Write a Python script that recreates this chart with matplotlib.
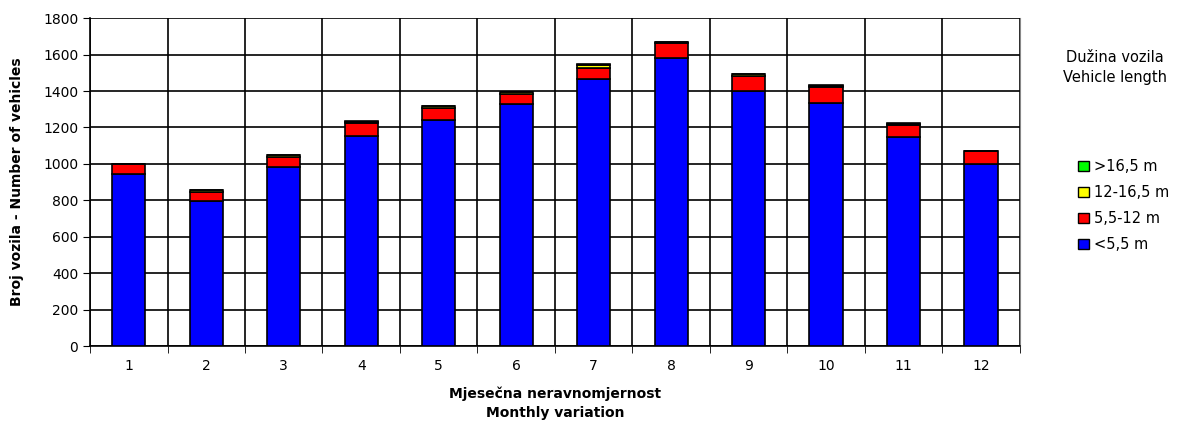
import matplotlib.pyplot as plt
import numpy as np
from matplotlib.patches import Patch

months = ['1', '2', '3', '4', '5', '6', '7', '8', '9', '10', '11', '12']
under_5_5 = [945, 798, 981, 1155, 1241, 1327, 1466, 1582, 1398, 1336, 1147, 997]
from_5_5_to_12 = [54, 50, 58, 68, 67, 58, 62, 80, 84, 86, 66, 72]
from_12_to_16_5 = [1, 7, 8, 8, 8, 8, 16, 6, 9, 8, 7, 1]
over_16_5 = [0, 3, 4, 3, 4, 4, 3, 3, 4, 3, 3, 0]

series_labels = ['<5,5 m', '5,5-12 m', '12-16,5 m', '>16,5 m']
colors = ['#0000FF', '#FF0000', '#FFFF00', '#00FF00']

plt.rcParams['font.family'] = 'DejaVu Sans'

fig = plt.figure(figsize=(11.77, 4.23), dpi=100)
ax = fig.add_axes([0.0765, 0.182, 0.79, 0.775])

x = np.arange(1, len(months) + 1)
bottom = np.zeros(len(months))
for vals, col in zip([under_5_5, from_5_5_to_12, from_12_to_16_5, over_16_5], colors):
    ax.bar(x, vals, width=0.43, bottom=bottom, color=col, edgecolor='black', linewidth=1.2, zorder=3)
    bottom += np.array(vals)

ax.set_xlim(0.5, 12.5)
ax.set_ylim(0, 1800)
ax.set_yticks(np.arange(0, 1801, 200))
ax.set_xticks(x)
ax.set_xticklabels(months)
ax.set_xticks(np.arange(0.5, 12.6, 1), minor=True)
ax.tick_params(axis='x', which='major', length=0, pad=9, labelsize=10)
ax.tick_params(axis='x', which='minor', length=5, direction='out', color='black')
ax.tick_params(axis='y', length=5, direction='out', labelsize=10)

ax.grid(True, axis='y', color='black', linewidth=1.2, zorder=0)
ax.grid(True, axis='x', which='minor', color='black', linewidth=1.2, zorder=0)
for s in ['left', 'bottom']:
    ax.spines[s].set_linewidth(1.2)
ax.spines['top'].set_visible(False)
ax.spines['right'].set_color('#888888')

ax.set_ylabel('Broj vozila - Number of vehicles', fontweight='bold', fontsize=10, labelpad=14)
ax.set_xlabel('Mjesečna neravnomjernost\nMonthly variation', fontweight='bold', fontsize=10,
              labelpad=10, linespacing=1.45)

fig.text(0.947, 0.84, 'Dužina vozila\nVehicle length', ha='center', va='center', fontsize=10.5, linespacing=1.4)

handles = [Patch(facecolor=c, edgecolor='black', label=l) for c, l in zip(colors, series_labels)]
fig.legend(handles[::-1], series_labels[::-1], loc='upper left', bbox_to_anchor=(0.905, 0.655),
           frameon=False, fontsize=10.5, handlelength=0.7, handleheight=0.7, handletextpad=0.4,
           labelspacing=0.75)

fig.savefig('out.png', dpi=100)
